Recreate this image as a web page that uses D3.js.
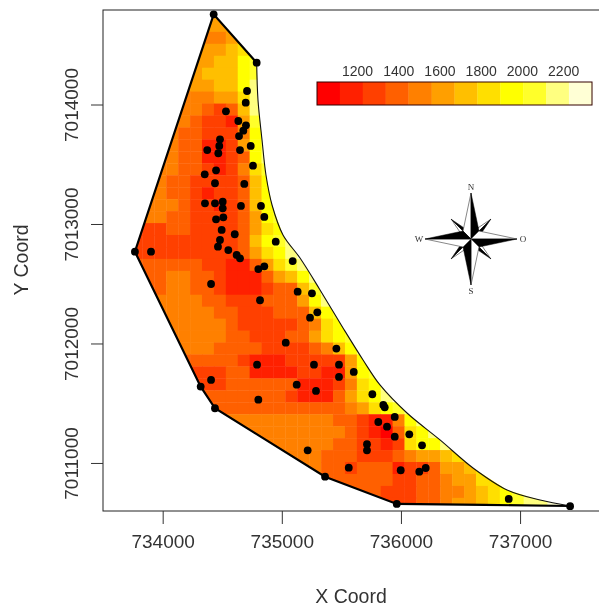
<!DOCTYPE html>
<html>
<head>
<meta charset="utf-8">
<script src="https://cdn.jsdelivr.net/npm/d3@7"></script>
<style>
  html, body { margin: 0; padding: 0; background: #fff; }
  svg { display: block; filter: blur(0.4px); }
  text { font-family: "Liberation Sans", Arial, sans-serif; fill: #333; }
</style>
</head>
<body>
<svg width="599" height="607"></svg>
<script>
// R heat.colors(12), one colour per class of the legend
var heatColors = ["#FF0000", "#FF2000", "#FF4000", "#FF6000", "#FF8000", "#FF9F00",
                  "#FFBF00", "#FFDF00", "#FFFF00", "#FFFF2A", "#FFFF80", "#FFFFD5"];
var zBreaks = [1006, 1117, 1228, 1339, 1450, 1562, 1673, 1784, 1895, 2006, 2117, 2228, 2340];
var legendTicks = [1200, 1400, 1600, 1800, 2000, 2200];
var xTicks = [734000, 735000, 736000, 737000];
var yTicks = [7011000, 7012000, 7013000, 7014000];

// kriging grid: 100 m cells, one string per row from north to south,
// each character is the hex class (0-b)
var cellSize = 100;
var gridX0 = 733730;
var gridY0 = 7014808;
var gridStart = [6, 6, 5, 4, 4, 4, 3, 3, 3, 2, 2, 2, 2, 1, 1, 1, 1, 0, 0, 0, 0,
                 0, 0, 0, 1, 2, 2, 3, 3, 4, 4, 5, 5, 6, 7, 8, 10, 12, 14, 15, 17, 20];
var gridRows = [
  "55", "555", "44456", "55556777", "55566899", "5566689a", "4455668aa",
  "4444557ab", "4443236ab", "444322159a", "443322248a", "443311258aa",
  "443311238ab", "44433212479a", "44332222368a", "44332122368aa",
  "444322123689a", "4443322223589a", "22233222235789a", "2222222223689ab",
  "2222222223578abb", "33333322113579ab", "333443321113568ab",
  "3334433211123369b", "344443322233358ab", "4444433222333689a",
  "44444432222234789a", "4444433222335789a", "4444333322223468a",
  "3333321112222258a", "22223311112211589a", "2223333331112478ab",
  "3333333321113578ab", "33333333333345789a", "44444444443321148a",
  "44444444443210378a", "4444444332212788a", "44443332223455679a",
  "44332333122355678a", "43333332233455779ab", "3333222334456789abb",
  "3222334556789aabbb"
];

// sample points
var pointX = [734428, 734789, 734708, 734697, 734531, 734635, 734699, 734677, 734641, 734739,
              734481, 734475, 734467, 734374, 734649, 734758, 734448, 734353, 734439, 734685,
              734355, 734439, 734504, 734504, 734657, 734825, 734853, 734509, 734448, 734495,
              734605, 734949, 734481, 734464, 734551, 734621, 734649, 733767, 733902, 735091,
              734803, 734853, 734406, 734817, 735133, 735253, 735298, 735237, 735033, 734792,
              735270, 734406, 734319, 734439, 735125, 735287, 734803, 735217, 735458, 735480,
              735480, 735604, 735760, 735852, 735864, 735948, 735810, 735883, 735948, 736070,
              736177, 735715, 735715, 735562, 735998, 736154, 736208, 735363, 735965, 736905,
              737420];
var pointY = [7014755, 7014350, 7014113, 7014015, 7013943, 7013862, 7013826, 7013781, 7013736, 7013653,
              7013709, 7013653, 7013592, 7013619, 7013619, 7013488, 7013449, 7013416, 7013341, 7013335,
              7013173, 7013173, 7013187, 7013131, 7013151, 7013151, 7013059, 7013056, 7013039, 7012950,
              7012914, 7012852, 7012866, 7012810, 7012782, 7012741, 7012713, 7012768, 7012768, 7012690,
              7012623, 7012646, 7012498, 7012362, 7012434, 7012420, 7012261, 7012216, 7012007, 7011823,
              7011823, 7011695, 7011639, 7011458, 7011655, 7011603, 7011530, 7011106, 7011957, 7011823,
              7011720, 7011762, 7011575, 7011485, 7011466, 7011385, 7011343, 7011304, 7011220, 7011240,
              7011148, 7011157, 7011106, 7010961, 7010939, 7010927, 7010958, 7010885, 7010657, 7010699,
              7010638];

// area border: heavy part (south and west), then thin curve on the east side
var borderHeavy = [[737420, 7010640], [736698, 7010649], [735965, 7010657], [735363, 7010885],
                   [734439, 7011458], [734319, 7011639], [733767, 7012768], [734428, 7014755],
                   [734789, 7014350]];
var borderThin = [[734789, 7014350], [734800, 7014038], [734834, 7013703], [734867, 7013410],
                  [734918, 7013159], [735010, 7012908], [735153, 7012715], [735321, 7012448],
                  [735514, 7012130], [735682, 7011862], [735824, 7011653], [736051, 7011418],
                  [736328, 7011193], [736605, 7010958], [736891, 7010774], [737168, 7010690],
                  [737420, 7010640]];

// compass: arm angle in degrees
var compassMain = [0, 90, 180, 270];
var compassMinor = [45, 135, 225, 315];
var compassLabels = ["N", "O", "S", "W"];

var svg = d3.select("svg");

var x = d3.scaleLinear().domain([733499, 737671]).range([103, 600]);
var y = d3.scaleLinear().domain([7010598, 7014791]).range([511, 10]);
var color = d3.scaleThreshold().domain(zBreaks.slice(1, -1)).range(heatColors);
var legendX = d3.scaleLinear().domain([zBreaks[0], zBreaks[12]]).range([317, 592]);

var line = d3.line()
  .x(function (d) { return x(d[0]); })
  .y(function (d) { return y(d[1]); });

// flatten the rows into cells
var cells = [];
gridRows.forEach(function (row, r) {
  row.split("").forEach(function (ch, i) {
    var level = parseInt(ch, 16);
    cells.push({
      x: gridX0 + (gridStart[r] + i) * cellSize,
      y: gridY0 - r * cellSize,
      z: (zBreaks[level] + zBreaks[level + 1]) / 2
    });
  });
});

// the grid only shows inside the border
var outline = borderHeavy.concat(borderThin.slice(1));
svg.append("clipPath").attr("id", "area")
  .append("path")
  .attr("d", line(outline) + "Z");

svg.append("g")
  .attr("clip-path", "url(#area)")
  .selectAll("rect")
  .data(cells)
  .enter()
  .append("rect")
  .attr("x", function (d) { return x(d.x); })
  .attr("y", function (d) { return y(d.y); })
  .attr("width", x(gridX0 + cellSize) - x(gridX0) + 0.4)
  .attr("height", y(gridY0 - cellSize) - y(gridY0) + 0.4)
  .attr("fill", function (d) { return color(d.z); });

svg.append("path")
  .attr("d", line(borderHeavy))
  .attr("fill", "none")
  .attr("stroke", "#000")
  .attr("stroke-width", 2.2);

svg.append("path")
  .attr("d", line.curve(d3.curveCatmullRom)(borderThin))
  .attr("fill", "none")
  .attr("stroke", "#111")
  .attr("stroke-width", 1.1);

svg.append("g")
  .selectAll("circle")
  .data(pointX)
  .enter()
  .append("circle")
  .attr("cx", function (d) { return x(d); })
  .attr("cy", function (d, i) { return y(pointY[i]); })
  .attr("r", 3.9)
  .attr("fill", "#000");

// plot box and axes
svg.append("rect")
  .attr("x", 103).attr("y", 10)
  .attr("width", 500).attr("height", 501)
  .attr("fill", "none")
  .attr("stroke", "#222");

var xAxis = svg.append("g")
  .attr("transform", "translate(0,511)")
  .call(d3.axisBottom(x).tickValues(xTicks).tickFormat(d3.format("d")).tickSize(13).tickSizeOuter(0).tickPadding(11));
xAxis.select(".domain").remove();
xAxis.selectAll("line").attr("stroke", "#333");
xAxis.selectAll("text").style("font-size", "19px").attr("fill", "#333");

var yAxis = svg.append("g")
  .attr("transform", "translate(103,0)")
  .call(d3.axisLeft(y).tickValues(yTicks).tickFormat(d3.format("d")).tickSize(12).tickSizeOuter(0));
yAxis.select(".domain").remove();
yAxis.selectAll("line").attr("stroke", "#333");
yAxis.selectAll("text")
  .style("font-size", "19px")
  .attr("fill", "#333")
  .attr("dy", 0)
  .attr("x", 0)
  .attr("text-anchor", "middle")
  .attr("transform", "translate(-25,0) rotate(-90)");

svg.append("text")
  .attr("x", 351).attr("y", 603)
  .attr("text-anchor", "middle")
  .style("font-size", "19.5px")
  .text("X Coord");

svg.append("text")
  .attr("transform", "translate(28,260) rotate(-90)")
  .attr("text-anchor", "middle")
  .style("font-size", "19.5px")
  .text("Y Coord");

// legend
var legend = svg.append("g");
legend.selectAll("rect")
  .data(heatColors)
  .enter()
  .append("rect")
  .attr("x", function (d, i) { return legendX(zBreaks[i]); })
  .attr("y", 82)
  .attr("width", function (d, i) { return legendX(zBreaks[i + 1]) - legendX(zBreaks[i]) + 0.3; })
  .attr("height", 23)
  .attr("fill", function (d) { return d; });
legend.append("rect")
  .attr("x", 317).attr("y", 82)
  .attr("width", 275).attr("height", 23)
  .attr("fill", "none")
  .attr("stroke", "#300");

var legendAxis = svg.append("g")
  .attr("transform", "translate(0,81)")
  .call(d3.axisTop(legendX).tickValues(legendTicks).tickFormat(d3.format("d")).tickSize(0).tickPadding(5));
legendAxis.select(".domain").remove();
legendAxis.selectAll("text").style("font-size", "14px").attr("fill", "#333");

// north arrow
var compass = svg.append("g").attr("transform", "translate(471,239)");

function arm(g, angle, length, half) {
  var a = g.append("g").attr("transform", "rotate(" + angle + ")");
  a.append("path")
    .attr("d", d3.line()([[0, -length], [-half, -half], [0, 0]]) + "Z")
    .attr("fill", "#fff")
    .attr("stroke", "#555")
    .attr("stroke-width", 0.7);
  a.append("path")
    .attr("d", d3.line()([[0, -length], [half, -half], [0, 0]]) + "Z")
    .attr("fill", "#000")
    .attr("stroke", "#000")
    .attr("stroke-width", 0.5);
}

compassMinor.forEach(function (d) { arm(compass, d, 28, 4.5); });
compassMain.forEach(function (d) { arm(compass, d, 46, 8); });

compass.selectAll(".dir")
  .data(compassLabels)
  .enter()
  .append("text")
  .attr("class", "dir")
  .attr("x", function (d, i) { return 52 * Math.sin(i * Math.PI / 2); })
  .attr("y", function (d, i) { return -52 * Math.cos(i * Math.PI / 2) + 3; })
  .attr("text-anchor", "middle")
  .style("font-family", "'Liberation Serif', serif")
  .style("font-size", "9px")
  .text(function (d) { return d; });
</script>
</body>
</html>
